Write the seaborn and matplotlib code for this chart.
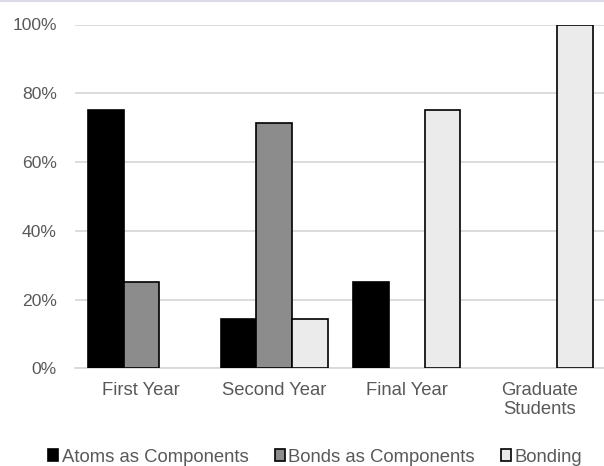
import matplotlib
matplotlib.use("Agg")
import matplotlib.pyplot as plt
from matplotlib.lines import Line2D
import seaborn as sns
import pandas as pd

categories = ["First Year", "Second Year", "Final Year", "Graduate\nStudents"]
series_names = ["Atoms as Components", "Bonds as Components", "Bonding"]
atoms = [75.0, 14.3, 25.0, 0.0]
bonds = [25.0, 71.4, 0.0, 0.0]
bonding = [0.0, 14.3, 75.0, 100.0]
y_ticks = [0, 20, 40, 60, 80, 100]
y_tick_labels = ["0%", "20%", "40%", "60%", "80%", "100%"]
colors = ["#000000", "#8c8c8c", "#ebebeb"]

rows = []
for name, vals in zip(series_names, [atoms, bonds, bonding]):
    for c, v in zip(categories, vals):
        rows.append({"category": c, "series": name, "value": v})
df = pd.DataFrame(rows)

sns.set_style("white")
plt.rcParams["font.family"] = ["Liberation Sans", "DejaVu Sans"]

fig = plt.figure(figsize=(6.04, 4.66), dpi=100)
ax = fig.add_axes([75 / 604, (466 - 368.4) / 466, 531 / 604, (368.4 - 24.5) / 466])

sns.barplot(data=df, x="category", y="value", hue="series", order=categories,
            hue_order=series_names, palette=colors, width=0.805, gap=0,
            edgecolor="black", linewidth=1.2, errorbar=None, ax=ax, legend=True)

for p in ax.patches:
    if p.get_height() == 0 and p.get_width() > 0:
        p.set_linewidth(0)

ax.set_xlim(-0.5, 3.5)
ax.set_ylim(0, 100)
ax.set_yticks(y_ticks)
ax.set_yticklabels(y_tick_labels)
ax.set_xlabel("")
ax.set_ylabel("")
ax.yaxis.grid(True, color="#d9d9d9", linewidth=1.3)
ax.set_axisbelow(True)
for s in ["top", "right", "left"]:
    ax.spines[s].set_visible(False)
ax.spines["bottom"].set_color("#d9d9d9")
ax.spines["bottom"].set_linewidth(1.3)
ax.spines["bottom"].set_zorder(0.5)
ax.tick_params(axis="y", length=0, pad=13, labelsize=12.6, labelcolor="#595959")
ax.tick_params(axis="x", length=0, pad=10, labelsize=13.3, labelcolor="#595959")
for lab in ax.get_xticklabels():
    lab.set_linespacing(1.15)

handles, labels = ax.get_legend_handles_labels()
ax.get_legend().remove()
for h in handles:
    h.set_edgecolor("black")
    h.set_linewidth(1.2)
fig.legend(handles, labels, loc="center", bbox_to_anchor=(0.522, 9 / 466), ncol=3,
           frameon=False, fontsize=13.3, labelcolor="#595959",
           handlelength=0.55, handleheight=0.55, handletextpad=0.2,
           columnspacing=1.4, borderaxespad=0)

fig.add_artist(Line2D([0, 1], [1 - 1 / 466, 1 - 1 / 466], transform=fig.transFigure,
                      color="#dcdce8", linewidth=1.5))

fig.savefig("out.png", dpi=100)
